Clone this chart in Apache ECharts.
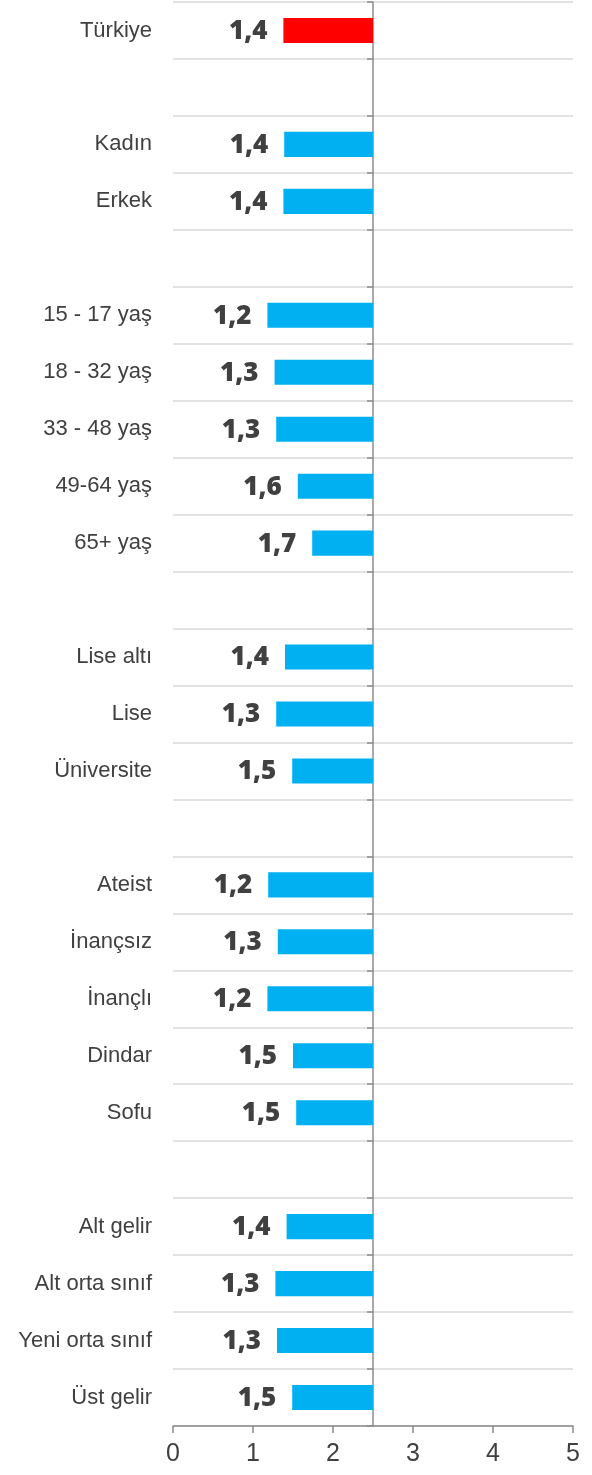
<!DOCTYPE html>
<html>
<head>
<meta charset="utf-8">
<script src="https://cdn.jsdelivr.net/npm/echarts@6/dist/echarts.min.js"></script>
<style>
html,body{margin:0;padding:0;background:#fff;}
#chart{width:592px;height:1475px;}
</style>
</head>
<body>
<div id="chart"></div>
<script>
// Categories (blank strings are spacer rows)
const categories = ['Türkiye','', 'Kadın','Erkek','', '15 - 17 yaş','18 - 32 yaş','33 - 48 yaş','49-64 yaş','65+ yaş','', 'Lise altı','Lise','Üniversite','', 'Ateist','İnançsız','İnançlı','Dindar','Sofu','', 'Alt gelir','Alt orta sınıf','Yeni orta sınıf','Üst gelir'];
const values = [1.38,null, 1.39,1.38,null, 1.18,1.27,1.29,1.56,1.74,null, 1.40,1.29,1.49,null, 1.19,1.31,1.18,1.50,1.54,null, 1.42,1.28,1.30,1.49];
const xTicks = [0,1,2,3,4,5];
const baseline = 2.5;
const highlight = 'Türkiye';

const chart = echarts.init(document.getElementById('chart'));
const data = [];
values.forEach((v,i)=>{ if(v!==null) data.push([v,i]); });

chart.setOption({
  animation:false,
  grid:{left:173,right:19,top:2,bottom:49,containLabel:false},
  xAxis:{
    type:'value',min:xTicks[0],max:xTicks[xTicks.length-1],interval:1,
    splitLine:{show:false},
    axisLine:{show:true,lineStyle:{color:'#8c8c8c',width:1.5}},
    axisTick:{show:true,length:7,lineStyle:{color:'#8c8c8c',width:1.5}},
    axisLabel:{fontSize:25,color:'#404040',margin:16,fontFamily:'Liberation Sans, Arial, sans-serif'}
  },
  yAxis:[{
    type:'category',inverse:true,data:categories,
    axisLine:{show:false},axisTick:{show:false},
    splitLine:{show:true,lineStyle:{color:'#d9d9d9',width:1.5}},
    axisLabel:{fontSize:22,color:'#404040',margin:21,fontFamily:'Liberation Sans, Arial, sans-serif'}
  },{
    type:'category',inverse:true,data:categories,position:'left',offset:-200,
    axisLine:{show:true,lineStyle:{color:'#8c8c8c',width:1.5}},
    axisTick:{show:true,length:6,lineStyle:{color:'#8c8c8c',width:1.5}},
    axisLabel:{show:false},splitLine:{show:false}
  }],
  series:[{
    type:'custom',
    xAxisIndex:0,yAxisIndex:0,
    encode:{x:0,y:1},
    data:data,
    renderItem:function(params,api){
      const v=api.value(0), idx=api.value(1);
      const s=api.coord([v,idx]);
      const e=api.coord([baseline,idx]);
      const h=api.size([0,1])[1]*0.44;
      const color = categories[idx]===highlight ? '#ff0000' : '#00b0f0';
      return {type:'group',children:[
        {type:'rect',shape:{x:s[0],y:s[1]-h/2,width:e[0]-s[0],height:h},style:{fill:color}},
        {type:'text',style:{text:v.toFixed(1).replace('.',','),x:s[0]-16,y:s[1]+1,align:'right',verticalAlign:'middle',
          fontSize:26,fontWeight:900,fontFamily:'"Open Sans", "Liberation Sans", Arial, sans-serif',fill:'#404040'}}
      ]};
    }
  }]
});
</script>
</body>
</html>
